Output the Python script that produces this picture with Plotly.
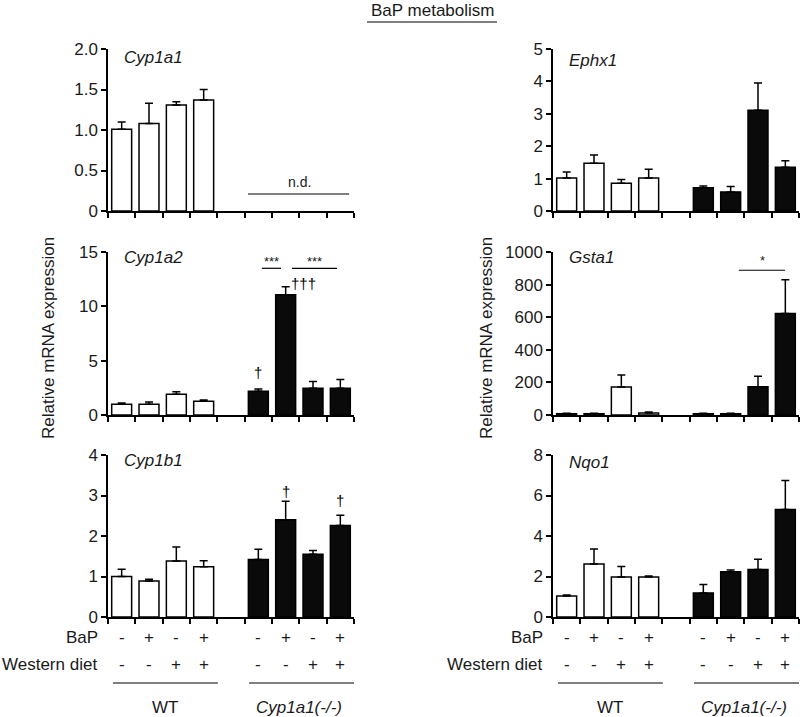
import plotly.graph_objects as go

# ---------------- data ----------------
genes = ["Cyp1a1", "Cyp1a2", "Cyp1b1", "Ephx1", "Gsta1", "Nqo1"]
wt_mean = {
    "Cyp1a1": [1.01, 1.08, 1.31, 1.37],
    "Cyp1a2": [1.00, 0.99, 1.91, 1.26],
    "Cyp1b1": [1.00, 0.89, 1.38, 1.24],
    "Ephx1":  [1.02, 1.47, 0.86, 1.02],
    "Gsta1":  [8, 8, 172, 12],
    "Nqo1":   [1.04, 2.62, 1.98, 1.98],
}
wt_sem = {
    "Cyp1a1": [0.09, 0.25, 0.04, 0.13],
    "Cyp1a2": [0.10, 0.20, 0.24, 0.13],
    "Cyp1b1": [0.18, 0.04, 0.35, 0.15],
    "Ephx1":  [0.18, 0.26, 0.11, 0.27],
    "Gsta1":  [2, 2, 74, 6],
    "Nqo1":   [0.05, 0.74, 0.51, 0.05],
}
ko_mean = {
    "Cyp1a1": None,  # n.d.
    "Cyp1a2": [2.19, 11.06, 2.46, 2.46],
    "Cyp1b1": [1.42, 2.40, 1.55, 2.26],
    "Ephx1":  [0.72, 0.59, 3.11, 1.35],
    "Gsta1":  [8, 8, 174, 623],
    "Nqo1":   [1.19, 2.24, 2.34, 5.31],
}
ko_sem = {
    "Cyp1a1": None,
    "Cyp1a2": [0.21, 0.74, 0.62, 0.80],
    "Cyp1b1": [0.25, 0.46, 0.09, 0.25],
    "Ephx1":  [0.05, 0.17, 0.84, 0.20],
    "Gsta1":  [2, 2, 64, 207],
    "Nqo1":   [0.41, 0.08, 0.51, 1.43],
}
y_ticks = {
    "Cyp1a1": ([0, 0.5, 1.0, 1.5, 2.0], ["0", "0.5", "1.0", "1.5", "2.0"]),
    "Cyp1a2": ([0, 5, 10, 15], ["0", "5", "10", "15"]),
    "Cyp1b1": ([0, 1, 2, 3, 4], ["0", "1", "2", "3", "4"]),
    "Ephx1":  ([0, 1, 2, 3, 4, 5], ["0", "1", "2", "3", "4", "5"]),
    "Gsta1":  ([0, 200, 400, 600, 800, 1000], ["0", "200", "400", "600", "800", "1000"]),
    "Nqo1":   ([0, 2, 4, 6, 8], ["0", "2", "4", "6", "8"]),
}
wt_x = [0, 1, 2, 3]
ko_x = [5, 6, 7, 8]
bap_signs = ["-", "+", "-", "+"]
diet_signs = ["-", "-", "+", "+"]

# ---------------- layout geometry ----------------
W, H = 800, 717
cols = {0: (108, 354), 1: (553, 799)}
rows = {0: (49, 211), 1: (252, 415), 2: (455, 617)}
placement = {"Cyp1a1": (0, 0), "Cyp1a2": (0, 1), "Cyp1b1": (0, 2),
             "Ephx1": (1, 0), "Gsta1": (1, 1), "Nqo1": (1, 2)}
gene_label_y = {"Cyp1a1": 58, "Cyp1a2": 257, "Cyp1b1": 460,
                "Ephx1": 60, "Gsta1": 258, "Nqo1": 462}

def fx(px):
    return px / W

def fy(py):
    return 1 - py / H

FONT = "Liberation Sans, Arial, sans-serif"
TXT = "#1a1a1a"
fig = go.Figure()
annotations = []
shapes = []
layout = {}

for i, g in enumerate(genes, start=1):
    c, r = placement[g]
    xa = "xaxis" if i == 1 else f"xaxis{i}"
    ya = "yaxis" if i == 1 else f"yaxis{i}"
    xr = "x" if i == 1 else f"x{i}"
    yr = "y" if i == 1 else f"y{i}"
    tv, tt = y_ticks[g]
    layout[xa] = dict(
        domain=[fx(cols[c][0]), fx(cols[c][1])], anchor=yr,
        range=[-0.5, 8.5], showgrid=False, zeroline=False, automargin=False,
        showline=True, linecolor="black", linewidth=1.5,
        ticks="outside", ticklen=5, tickwidth=1.5, tickcolor="black",
        tickvals=[k - 0.5 for k in range(10)], showticklabels=False,
        fixedrange=True,
    )
    layout[ya] = dict(
        domain=[fy(rows[r][1]), fy(rows[r][0])], anchor=xr,
        range=[0, tv[-1]], showgrid=False, zeroline=False, automargin=False,
        showline=True, linecolor="black", linewidth=1.5,
        ticks="outside", ticklen=5, tickwidth=1.5, tickcolor="black",
        tickvals=tv, ticktext=tt,
        tickfont=dict(family=FONT, size=17, color=TXT),
        fixedrange=True,
    )
    wm, ws = wt_mean[g], wt_sem[g]
    fig.add_trace(go.Bar(
        x=wt_x, y=wm, width=0.73, xaxis=xr, yaxis=yr,
        marker=dict(color="white", line=dict(color="black", width=1.5)),
        error_y=dict(type="data", symmetric=False, array=ws,
                     arrayminus=[0] * len(ws), color="black",
                     thickness=1.5, width=4),
        showlegend=False, hoverinfo="skip",
    ))
    if ko_mean[g] is not None:
        km, ks = ko_mean[g], ko_sem[g]
        fig.add_trace(go.Bar(
            x=ko_x, y=km, width=0.73, xaxis=xr, yaxis=yr,
            marker=dict(color="#0a0a0a", line=dict(color="black", width=1.5)),
            error_y=dict(type="data", symmetric=False, array=ks,
                         arrayminus=[0] * len(ks), color="black",
                         thickness=1.5, width=4),
            showlegend=False, hoverinfo="skip",
        ))
    annotations.append(dict(
        text=f"<i>{g}</i>", xref="paper", yref="paper",
        x=fx(cols[c][0] + 14), y=fy(gene_label_y[g]),
        xanchor="left", yanchor="middle", showarrow=False,
        font=dict(family=FONT, size=17, color=TXT),
    ))

# ---------------- significance marks ----------------
def txt(t, x, y, xr, yr, size=14, color=TXT):
    annotations.append(dict(text=t, x=x, y=y, xref=xr, yref=yr, showarrow=False,
                            xanchor="center", yanchor="middle",
                            font=dict(family=FONT, size=size, color=color)))

def hline(x0, x1, y, xr, yr):
    shapes.append(dict(type="line", x0=x0, x1=x1, y0=y, y1=y, xref=xr, yref=yr,
                       line=dict(color="black", width=1.2)))

hline(4.62, 8.32, 0.21, "x", "y")
txt("n.d.", 6.5, 0.36, "x", "y", 14)
txt("†", 5, 3.9, "x2", "y2", 15, "black")
hline(5.13, 5.83, 13.5, "x2", "y2")
txt("***", 5.48, 14.1, "x2", "y2", 13)
hline(6.23, 7.88, 13.5, "x2", "y2")
txt("***", 7.05, 14.1, "x2", "y2", 13)
txt("†††", 6.67, 12.1, "x2", "y2", 15, "black")
txt("†", 6, 3.1, "x3", "y3", 15, "black")
txt("†", 8, 2.88, "x3", "y3", 15, "black")
hline(6.3, 7.99, 888, "x5", "y5")
txt("*", 7.15, 950, "x5", "y5", 13)

# ---------------- bottom condition rows ----------------
for xr, c in (("x3", 0), ("x6", 1)):
    for xs in (wt_x, ko_x):
        for k, xv in enumerate(xs):
            txt(bap_signs[k], xv, fy(637), xr, "paper", 17)
            txt(diet_signs[k], xv, fy(664), xr, "paper", 17)
    left = cols[c][0]
    annotations.append(dict(text="BaP", x=fx(left - 8), y=fy(637), xref="paper",
                            yref="paper", xanchor="right", yanchor="middle",
                            showarrow=False, font=dict(family=FONT, size=17, color=TXT)))
    annotations.append(dict(text="Western diet", x=fx(left - 9), y=fy(664),
                            xref="paper", yref="paper", xanchor="right",
                            yanchor="middle", showarrow=False,
                            font=dict(family=FONT, size=17, color=TXT)))
    hline(-0.32, 3.52, fy(683), xr, "paper")
    hline(4.66, 8.5, fy(683), xr, "paper")
    txt("WT", 1.6, fy(707), xr, "paper", 17)
    txt("<i>Cyp1a1(-/-)</i>", 6.5, fy(707), xr, "paper", 17)

for xc in (48, 486):
    annotations.append(dict(text="Relative mRNA expression", x=fx(xc), y=fy(338),
                            xref="paper", yref="paper", textangle=-90,
                            xanchor="center", yanchor="middle", showarrow=False,
                            font=dict(family=FONT, size=17, color=TXT)))

annotations.append(dict(text="BaP metabolism", x=fx(432), y=fy(10), xref="paper",
                        yref="paper", xanchor="center", yanchor="middle",
                        showarrow=False, font=dict(family=FONT, size=17, color=TXT)))
shapes.append(dict(type="line", x0=fx(367), x1=fx(497), y0=fy(22), y1=fy(22),
                   xref="paper", yref="paper", line=dict(color="black", width=1.2)))

fig.update_layout(
    width=W, height=H, margin=dict(l=0, r=0, t=0, b=0, autoexpand=False),
    paper_bgcolor="white", plot_bgcolor="white",
    barmode="overlay", annotations=annotations, shapes=shapes,
    font=dict(family=FONT, color=TXT),
    **layout,
)
fig.write_html(
    "out.html",
    config={"displayModeBar": False},
    post_script="document.body.style.margin='0';document.body.style.overflow='hidden';",
)
